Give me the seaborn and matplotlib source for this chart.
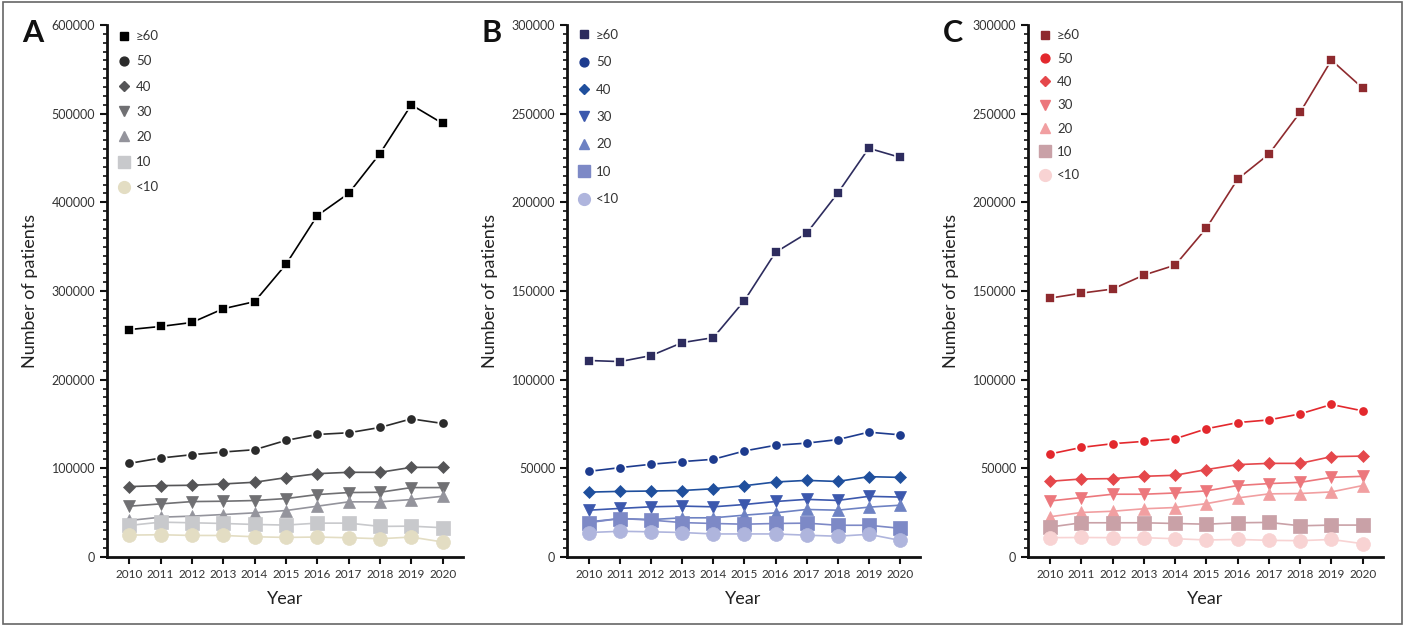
import numpy as np
import pandas as pd
import seaborn as sns
import matplotlib.pyplot as plt
from matplotlib.ticker import MultipleLocator
from matplotlib.patches import Rectangle
from matplotlib.lines import Line2D

years = list(range(2010, 2021))
groups = ['≥60', '50', '40', '30', '20', '10', '<10']

# panel A - all
a60 = [256500, 260000, 264500, 280000, 288000, 330000, 385000, 410000, 455000, 510000, 489000]
a50 = [105600, 111600, 115400, 118400, 121000, 131500, 138200, 140100, 146100, 155800, 150600]
a40 = [79400, 80500, 80900, 82400, 84300, 89500, 94000, 95500, 95500, 101100, 101100]
a30 = [57300, 59900, 62500, 62900, 63700, 65900, 70400, 72700, 73000, 78300, 78300]
a20 = [41200, 44900, 46100, 47900, 49800, 52400, 57300, 62200, 62200, 64800, 68500]
a10 = [35600, 39300, 38600, 37800, 36700, 36000, 38200, 38200, 34500, 34800, 33000]
a_lt10 = [24700, 25100, 24300, 24300, 22800, 22100, 22500, 21700, 20600, 22500, 16900]

# panel B
b60 = [110800, 110200, 113600, 120900, 123700, 144600, 171800, 182500, 205100, 230500, 225400]
b50 = [48300, 50400, 52300, 53800, 55100, 59800, 63000, 64200, 66200, 70400, 68900]
b40 = [36600, 37000, 37200, 37500, 38500, 40200, 42300, 43200, 42600, 45300, 44900]
b30 = [26400, 27400, 28300, 28700, 28300, 29600, 31300, 32500, 31900, 34200, 33800]
b20 = [19800, 21700, 21100, 22100, 22100, 23600, 24900, 26800, 26400, 28100, 29200]
b10 = [19400, 21700, 20800, 19400, 18900, 18500, 18900, 19100, 17900, 17900, 16200]
b_lt10 = [13800, 14500, 14200, 13800, 13000, 13000, 13000, 12300, 11700, 12800, 9400]

# panel C
c60 = [146000, 148800, 151100, 159000, 164600, 185500, 213100, 227200, 250800, 280200, 264400]
c50 = [58100, 61800, 63900, 65200, 66700, 72300, 75800, 77300, 80700, 86000, 82400]
c40 = [42700, 44000, 44200, 45500, 46100, 49300, 52100, 52800, 52800, 56600, 56900]
c30 = [31600, 33500, 35400, 35400, 36100, 37300, 40300, 41400, 42100, 44900, 45500]
c20 = [22700, 25100, 25800, 27200, 27900, 30100, 33300, 35600, 35800, 36700, 40300]
c10 = [16900, 19300, 19300, 19300, 18900, 18500, 19300, 19500, 17600, 18000, 18000]
c_lt10 = [10900, 11000, 10900, 10900, 10300, 9600, 9900, 9400, 9200, 9900, 7500]

colors_a = ['#000000', '#2b2b2b', '#555557', '#707073', '#94949c', '#c8c9cc', '#e3ddc3']
colors_b = ['#2d2c5e', '#1d3b8e', '#1f4f9d', '#3c58ad', '#6e82c3', '#7d89c6', '#afb5dd']
colors_c = ['#8e2a2e', '#e3282d', '#e5474b', '#ec777c', '#f19fa1', '#c9a1a7', '#f8d3d3']

markers = ['s', 'o', 'D', 'v', '^', 's', 'o']
msizes = [7, 7.5, 6.5, 9, 9, 9.5, 10]

sns.set_style("ticks")
plt.rcParams['font.family'] = ['Lato', 'DejaVu Sans']

fig = plt.figure(figsize=(14.05, 6.26), dpi=100)
W, H = 1405, 626
panels = [
    ('A', [a60, a50, a40, a30, a20, a10, a_lt10], colors_a, 600000, 100000, 107, 463, 1.0, 1.0),
    ('B', [b60, b50, b40, b30, b20, b10, b_lt10], colors_b, 300000, 50000, 567, 920, 1.17, 1.003),
    ('C', [c60, c50, c40, c30, c20, c10, c_lt10], colors_c, 300000, 50000, 1028, 1383, 0.86, 1.002),
]

for letter, series, cols, ymax, step, x0, x1, lspace, ly in panels:
    ax = fig.add_axes([x0 / W, (H - 557) / H, (x1 - x0) / W, (557 - 25) / H])
    for i, vals in enumerate(series):
        edge = 'white' if i < 2 else cols[i]
        sns.lineplot(x=years, y=vals, ax=ax, color=cols[i], marker=markers[i],
                     markersize=msizes[i], markeredgecolor=edge,
                     markeredgewidth=1.2 if i < 2 else 0.5,
                     linewidth=1.2, clip_on=False, zorder=3 + i)
    ax.set_xlim(2009.29, 2020.65)
    ax.set_ylim(0, ymax)
    ax.set_xticks(years)
    ax.set_xticklabels([str(y) for y in years], fontsize=8.5, color='#333333')
    ax.yaxis.set_major_locator(MultipleLocator(step))
    ax.yaxis.set_minor_locator(MultipleLocator(step / 10))
    ax.set_yticklabels([str(int(v)) for v in ax.get_yticks()], fontsize=9, color='#333333')
    ax.tick_params(axis='both', which='major', length=5, width=1.5, color='#111111')
    ax.tick_params(axis='y', which='minor', length=3, width=1.2, color='#111111')
    for s in ['left', 'bottom']:
        ax.spines[s].set_linewidth(2)
        ax.spines[s].set_color('#111111')
    sns.despine(ax=ax)
    ax.set_xlabel('Year', fontsize=13, color='#222222', labelpad=8)
    ax.set_ylabel('Number of patients', fontsize=13, color='#222222', labelpad=10)
    handles = [Line2D([], [], linestyle='none', marker=markers[i], color=cols[i],
                      markeredgecolor=cols[i], markersize=msizes[i] * 0.85)
               for i in range(len(groups))]
    ax.legend(handles, groups, loc='upper left', bbox_to_anchor=(0.015, ly), frameon=False,
              handlelength=0.9, handletextpad=0.5, labelspacing=lspace,
              fontsize=9.5, borderaxespad=0.0, labelcolor='#333333')
    fig.text((x0 - 85) / W, 1 - 33 / H, letter, fontsize=22, fontweight='bold',
             ha='left', va='center', color='#111111')

fig.patches.append(Rectangle((0.002, 0.003), 0.996, 0.994, transform=fig.transFigure,
                             fill=False, edgecolor='#666666', linewidth=1.2))

plt.savefig('out.png', dpi=100)
